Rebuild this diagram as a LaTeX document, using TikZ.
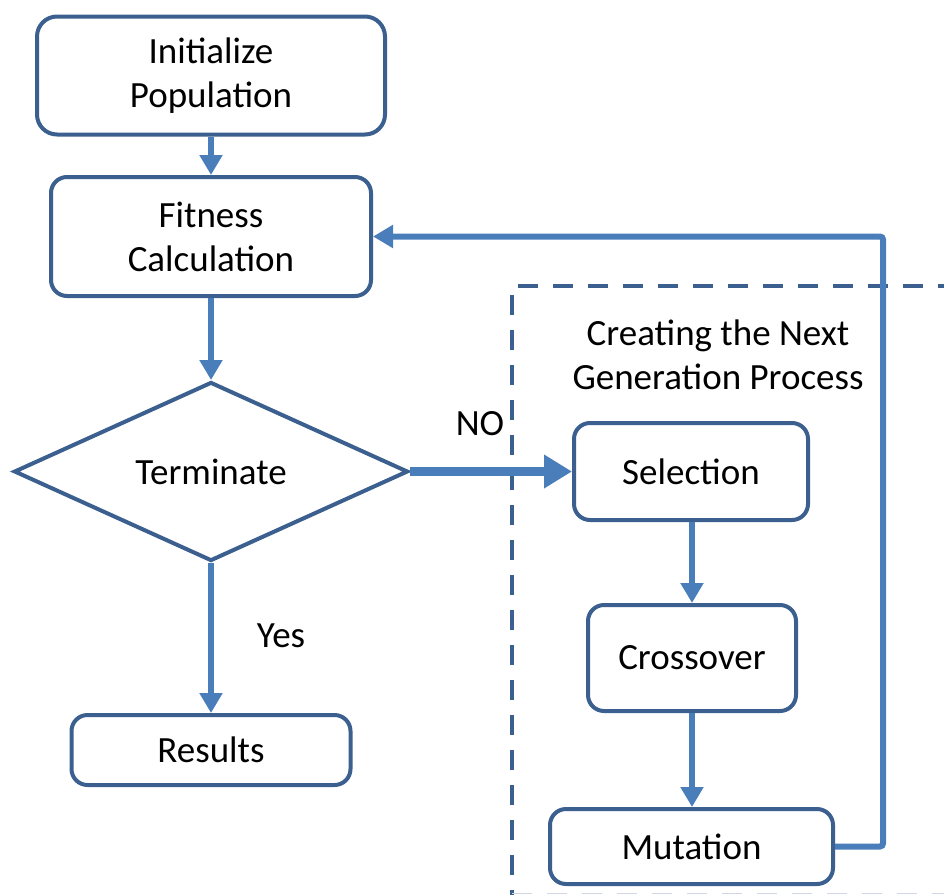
\documentclass[tikz,border=0pt]{standalone}
\usepackage{fontspec}
\setmainfont{Carlito}
\usetikzlibrary{arrows.meta,shapes.geometric}
\definecolor{boxblue}{HTML}{3B5F8E}
\definecolor{arrblue}{HTML}{4A7EBB}
\begin{document}
\begin{tikzpicture}[x=1pt,y=-1pt,
  font=\fontsize{37}{44}\selectfont,
  box/.style={draw=boxblue,line width=4pt,rounded corners=16pt,fill=white,inner sep=0pt,align=center},
  arr/.style={draw=arrblue,line width=6pt,-{Triangle[width=22pt,length=20pt]}},
  bigarr/.style={draw=arrblue,line width=9pt,-{Triangle[width=32pt,length=28pt]}},
  lbl/.style={inner sep=0pt,align=center}]
\useasboundingbox (0,0) rectangle (944,894);
% dashed frame
\begin{scope}
\clip (0,0) rectangle (944,894);
\draw[boxblue,line width=4pt,dash pattern=on 20pt off 15pt] (512,910) -- (512,286) -- (960,286);
\draw[boxblue!25,line width=1.5pt,dash pattern=on 20pt off 15pt] (512,893.5) -- (960,893.5);
\end{scope}
\node[box,minimum width=348pt,minimum height=118pt,rounded corners=20pt] (init) at (211,75.5) {Initialize\\Population};
\node[box,minimum width=320pt,minimum height=119pt] (fit) at (211,236.5) {Fitness\\Calculation};
\node[draw=boxblue,line width=4pt,diamond,shape aspect=2.19,minimum width=394pt,minimum height=179pt,inner sep=0pt,fill=white] (term) at (211,471.5) {Terminate};
\node[box,minimum width=279pt,minimum height=70pt] (res) at (211,750) {Results};
\node[box,minimum width=234pt,minimum height=97pt] (sel) at (691,471.5) {Selection};
\node[box,minimum width=208pt,minimum height=106pt] (cro) at (692,658) {Crossover};
\node[box,minimum width=283pt,minimum height=75pt] (mut) at (691.5,846.5) {Mutation};
\node[lbl] (gen) at (718,355) {Creating the Next\\Generation Process};
\node[lbl] (no) at (480,424) {NO};
\node[lbl] (yes) at (281,636) {Yes};
% connectors
\draw[arr] (init.south) -- (fit.north);
\draw[arr] (fit.south) -- (term.north);
\draw[arr] (term.south) -- (res.north);
\draw[bigarr] (term.east) -- (sel.west);
\draw[arr] (sel.south -| cro.north) -- (cro.north);
\draw[arr] (cro.south) -- (cro.south |- mut.north);
\coordinate (c1) at (883,846.5);
\coordinate (c2) at (883,236.5);
\draw[arr,rounded corners=3pt] (mut.east) -- (c1) -- (c2) -- (fit.east);
\end{tikzpicture}
\end{document}
